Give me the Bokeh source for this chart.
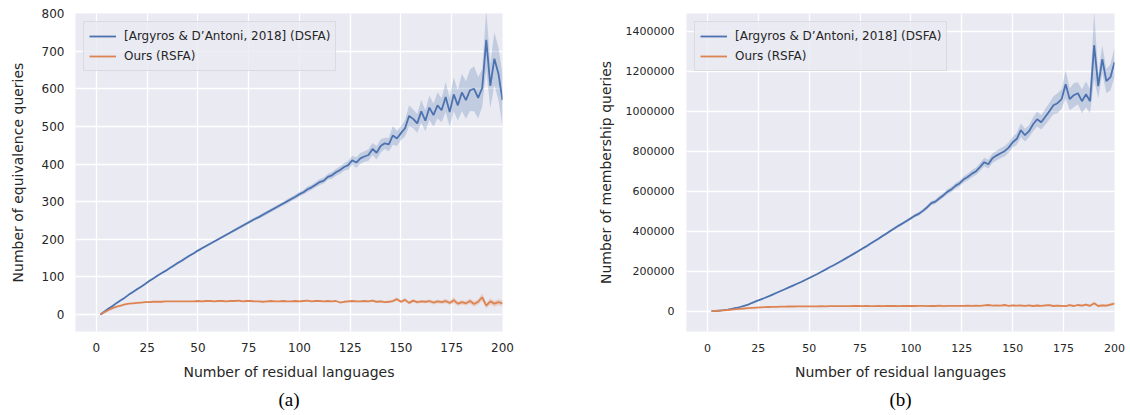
from bokeh.plotting import figure
from bokeh.layouts import row
from bokeh.models import Title, FixedTicker, BasicTickFormatter, Range1d
from bokeh.embed import file_html
from bokeh.resources import INLINE

# ---------------- data ----------------
residual_languages = list(range(2, 201, 2))

eq_dsfa = [0, 8, 16, 23, 31, 38, 45, 53, 60, 67,
           74, 81, 89, 96, 103, 110, 116, 123, 130, 137,
           143, 150, 157, 163, 170, 176, 182, 188, 194, 200,
           206, 212, 218, 224, 230, 236, 242, 248, 254, 259,
           265, 271, 277, 283, 289, 295, 301, 307, 313, 320,
           325, 333, 338, 345, 352, 356, 366, 370, 378, 384,
           392, 397, 410, 404, 415, 420, 424, 440, 430, 448,
           455, 452, 476, 468, 482, 495, 528, 520, 508, 540,
           515, 550, 530, 556, 543, 578, 538, 585, 556, 590,
           570, 596, 600, 576, 602, 730, 608, 680, 640, 570]
eq_dsfa_ci = [1, 1, 2, 2, 2, 2, 2, 2, 2, 2,
              2, 2, 2, 2, 2, 2, 2, 2, 3, 3,
              3, 3, 3, 3, 3, 3, 3, 3, 3, 3,
              3, 3, 3, 4, 4, 4, 4, 4, 4, 4,
              5, 5, 5, 5, 5, 5, 6, 6, 6, 6,
              6, 7, 7, 7, 8, 8, 8, 9, 9, 10,
              10, 12, 12, 14, 14, 14, 15, 16, 18, 18,
              15, 18, 25, 20, 18, 22, 28, 25, 25, 30,
              28, 32, 30, 35, 32, 40, 38, 45, 40, 50,
              50, 55, 60, 55, 50, 80, 60, 70, 70, 70]

eq_rsfa = [0, 6, 12, 17, 21, 24, 27, 29, 30, 31,
           32, 33, 33, 34, 34, 34, 35, 35, 35, 35,
           35, 35, 35, 35, 36, 35, 36, 36, 35, 36,
           36, 35, 36, 36, 37, 35, 36, 36, 35, 35,
           34, 35, 36, 35, 35, 36, 35, 35, 36, 35,
           36, 37, 35, 36, 36, 35, 36, 35, 36, 32,
           34, 35, 36, 35, 35, 36, 35, 37, 34, 35,
           33, 34, 36, 41, 34, 39, 31, 37, 33, 35,
           34, 36, 32, 35, 33, 36, 31, 38, 29, 33,
           30, 36, 28, 34, 46, 24, 35, 29, 33, 30]
eq_rsfa_ci = [0, 1, 1, 1, 1, 1, 1, 1, 1, 1,
              1, 1, 1, 1, 1, 1, 1, 1, 1, 1,
              1, 1, 1, 1, 1, 1, 1, 1, 1, 1,
              1, 1, 1, 1, 1, 1, 1, 1, 1, 1,
              1, 1, 1, 1, 1, 1, 1, 1, 1, 1,
              1, 1, 1, 1, 1, 1, 1, 1, 1, 2,
              2, 2, 2, 2, 2, 2, 2, 3, 3, 3,
              3, 3, 4, 5, 4, 5, 4, 4, 4, 4,
              4, 5, 5, 5, 5, 6, 5, 8, 6, 6,
              6, 7, 7, 7, 10, 7, 8, 8, 8, 8]

mq_dsfa = [0, 1000, 3000, 5000, 8000, 12000, 16000, 21000, 27000, 33000,
           42000, 50000, 58000, 66000, 74000, 83000, 92000, 101000, 110000, 119000,
           128000, 137000, 146000, 156000, 166000, 176000, 186000, 197000, 208000, 220000,
           230000, 241000, 252000, 264000, 276000, 288000, 300000, 312000, 324000, 337000,
           350000, 362000, 376000, 389000, 402000, 415000, 428000, 440000, 452000, 465000,
           478000, 488000, 503000, 520000, 540000, 548000, 565000, 580000, 598000, 610000,
           628000, 640000, 660000, 672000, 688000, 700000, 722000, 745000, 735000, 765000,
           778000, 790000, 800000, 818000, 845000, 862000, 905000, 880000, 900000, 935000,
           960000, 945000, 972000, 1000000, 1030000, 1040000, 1060000, 1135000, 1060000, 1080000,
           1090000, 1050000, 1085000, 1050000, 1330000, 1125000, 1260000, 1150000, 1170000, 1245000]
mq_dsfa_ci = [0, 200, 300, 400, 500, 600, 700, 800, 900, 1000,
              1100, 1200, 1300, 1400, 1500, 1600, 1700, 1800, 1900, 2000,
              2100, 2200, 2300, 2400, 2500, 2600, 2700, 2800, 2900, 3000,
              3200, 3400, 3600, 3800, 4000, 4200, 4400, 4600, 4800, 5000,
              5300, 5600, 5900, 6200, 6500, 6800, 7100, 7400, 7700, 8000,
              8500, 9000, 9500, 10000, 11000, 11000, 12000, 12000, 13000, 14000,
              14000, 15000, 16000, 17000, 18000, 19000, 20000, 22000, 22000, 24000,
              24000, 25000, 26000, 26000, 27000, 30000, 35000, 32000, 30000, 35000,
              38000, 36000, 40000, 42000, 45000, 50000, 48000, 70000, 55000, 60000,
              55000, 60000, 65000, 60000, 170000, 60000, 70000, 60000, 65000, 75000]

mq_rsfa = [0, 1000, 2500, 4000, 6000, 8000, 10000, 12000, 13500, 15000,
           16500, 18000, 19000, 20000, 21000, 21500, 22000, 22500, 23000, 23500,
           23500, 24000, 24000, 24000, 24500, 24500, 24500, 25000, 24500, 25000,
           25000, 25500, 25000, 25500, 25500, 26000, 26000, 25500, 26000, 25500,
           25500, 26000, 25500, 26000, 26500, 26000, 25500, 26500, 26000, 26500,
           26000, 27000, 26500, 25500, 27000, 26000, 27500, 25500, 27000, 26500,
           26500, 27000, 26500, 27500, 27000, 28000, 27000, 29000, 31000, 28000,
           28500, 28000, 31000, 27000, 29000, 27500, 28500, 27000, 29500, 26000,
           28500, 27000, 29000, 30000, 26000, 28000, 27000, 25000, 30000, 26000,
           31000, 28000, 33000, 27000, 40000, 26000, 29000, 28000, 33000, 38000]
mq_rsfa_ci = [0, 100, 150, 200, 250, 300, 350, 400, 400, 450,
              450, 500, 500, 500, 550, 550, 550, 600, 600, 600,
              600, 650, 650, 650, 700, 700, 700, 700, 750, 750,
              750, 800, 800, 800, 850, 850, 850, 900, 900, 900,
              950, 950, 1000, 1000, 1000, 1100, 1100, 1100, 1200, 1200,
              1200, 1300, 1300, 1400, 1400, 1500, 1500, 1600, 1600, 1700,
              1700, 1800, 1800, 1900, 2000, 2000, 2100, 2200, 2300, 2400,
              2500, 2600, 2700, 2800, 2900, 3000, 3100, 3200, 3300, 3400,
              3500, 3600, 3700, 3800, 3900, 4000, 4200, 4400, 4600, 4800,
              5000, 5200, 5400, 5600, 7000, 5800, 6000, 6200, 6400, 6600]

x_ticks = [0, 25, 50, 75, 100, 125, 150, 175, 200]
eq_ticks = [0, 100, 200, 300, 400, 500, 600, 700, 800]
mq_ticks = [0, 200000, 400000, 600000, 800000, 1000000, 1200000, 1400000]

series_names = ["[Argyros & D\u2019Antoni, 2018] (DSFA)", "Ours (RSFA)"]
colors = ["#4C72B0", "#DD8452"]

TEXT = "#262626"
FONT = "DejaVu Sans"


def build(y_main, y_main_ci, y_ours, y_ours_ci, y_range, y_ticks, ylabel, caption,
          tick_size, frame_w, min_left, min_right, min_top, min_bottom,
          tick_standoff, ylabel_standoff, xlabel_standoff, caption_standoff):
    p = figure(frame_width=frame_w, frame_height=318,
               x_range=Range1d(-10.3, 200), y_range=Range1d(*y_range),
               output_backend="svg", toolbar_location=None,
               min_border_left=min_left, min_border_right=min_right,
               min_border_top=min_top, min_border_bottom=min_bottom)
    p.background_fill_color = "#EAEAF2"
    p.border_fill_color = "white"
    p.outline_line_color = None
    p.xaxis.ticker = FixedTicker(ticks=x_ticks)
    p.yaxis.ticker = FixedTicker(ticks=y_ticks)
    p.yaxis.formatter = BasicTickFormatter(use_scientific=False)
    p.xaxis.axis_label = "Number of residual languages"
    p.yaxis.axis_label = ylabel
    for ax in (p.xaxis[0], p.yaxis[0]):
        ax.axis_line_color = None
        ax.major_tick_line_color = None
        ax.minor_tick_line_color = None
        ax.major_tick_out = 0
        ax.major_tick_in = 0
        ax.minor_tick_out = 0
        ax.major_label_standoff = tick_standoff
        ax.major_label_text_font = FONT
        ax.major_label_text_font_size = tick_size
        ax.major_label_text_color = TEXT
        ax.axis_label_text_font = FONT
        ax.axis_label_text_font_size = "14px"
        ax.axis_label_text_font_style = "normal"
        ax.axis_label_text_color = TEXT
    p.yaxis.axis_label_standoff = ylabel_standoff
    p.xaxis.axis_label_standoff = xlabel_standoff
    p.grid.grid_line_color = "white"
    p.grid.grid_line_width = 1.3

    x = residual_languages
    for vals, ci, col in ((y_main, y_main_ci, colors[0]),
                          (y_ours, y_ours_ci, colors[1])):
        lo = [v - c for v, c in zip(vals, ci)]
        hi = [v + c for v, c in zip(vals, ci)]
        p.varea(x=x, y1=lo, y2=hi, fill_color=col, fill_alpha=0.25)
    for vals, col, name in ((y_main, colors[0], series_names[0]),
                            (y_ours, colors[1], series_names[1])):
        p.line(x, vals, line_color=col, line_width=1.8, legend_label=name)

    lg = p.legend[0]
    lg.location = "top_left"
    lg.margin = 8
    lg.padding = 5
    lg.spacing = 2
    lg.glyph_width = 27
    lg.glyph_height = 18
    lg.label_height = 18
    lg.label_standoff = 8
    lg.label_text_font = FONT
    lg.label_text_font_size = "12px"
    lg.label_text_color = TEXT
    lg.background_fill_color = "#EAEAF2"
    lg.background_fill_alpha = 0.8
    lg.border_line_color = "#CCCCCC"
    lg.border_line_width = 1

    t = Title(text=caption, align="center", text_font="Liberation Serif",
              text_font_size="19px", text_font_style="normal", text_color="black",
              standoff=caption_standoff)
    p.add_layout(t, "below")
    return p


p1 = build(eq_dsfa, eq_dsfa_ci, eq_rsfa, eq_rsfa_ci, (-45, 800), eq_ticks,
           "Number of equivalence queries", "(a)", "12px",
           427, 75, 20, 13, 80, 11, 13, 9, 9)
p2 = build(mq_dsfa, mq_dsfa_ci, mq_rsfa, mq_rsfa_ci, (-101500, 1488500), mq_ticks,
           "Number of membership queries", "(b)", "11px",
           428, 164, 16, 13, 80, 12, 9, 9, 9)

layout = row(p1, p2)
open("out.html", "w").write(file_html(layout, INLINE))
